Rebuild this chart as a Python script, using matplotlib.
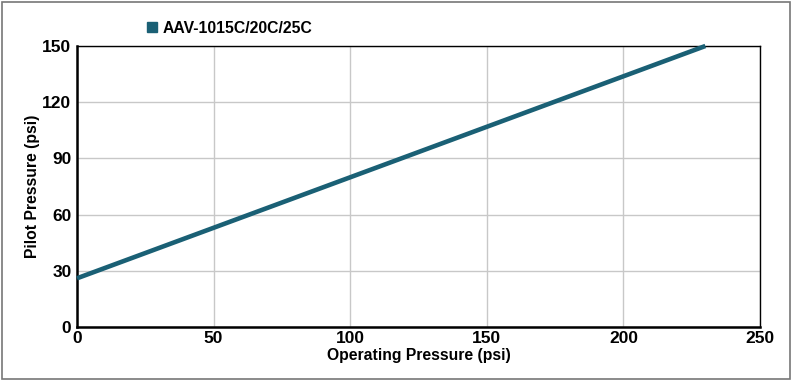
import matplotlib.pyplot as plt
from matplotlib.patches import Rectangle

# data
operating_psi = [0, 230]
pilot_psi = [26, 150]
series_name = "AAV-1015C/20C/25C"
x_ticks = [0, 50, 100, 150, 200, 250]
y_ticks = [0, 30, 60, 90, 120, 150]

teal = "#1a6075"

plt.rcParams['font.family'] = ['Liberation Sans', 'DejaVu Sans']
plt.rcParams['font.weight'] = 'bold'

fig = plt.figure(figsize=(7.93, 3.83), dpi=100)
ax = fig.add_axes([77/793, 1 - 327/383, 683/793, 281/383])

ax.plot(operating_psi, pilot_psi, color=teal, lw=3.3, solid_capstyle='butt',
        label=series_name, clip_on=False, zorder=3)

ax.set_xlim(0, 250)
ax.set_ylim(0, 150)
ax.set_xticks(x_ticks)
ax.set_yticks(y_ticks)
ax.grid(True, color='#c8c8c8', lw=1)
ax.set_axisbelow(True)
ax.tick_params(axis='both', length=0, labelsize=12.5, pad=4)
ax.tick_params(axis='x', pad=3)
for lbl in ax.get_xticklabels() + ax.get_yticklabels():
    lbl.set_fontweight('bold')

for side in ['left', 'bottom']:
    ax.spines[side].set_linewidth(1.8)
for side in ['top', 'right']:
    ax.spines[side].set_linewidth(1.0)

ax.set_xlabel("Operating Pressure (psi)", fontsize=11.3, fontweight='bold', labelpad=1)
ax.set_ylabel("Pilot Pressure (psi)", fontsize=11.3, fontweight='bold', labelpad=2)

# legend with square marker above the plot
leg = ax.legend(handles=[plt.Line2D([], [], marker='s', color=teal, ls='none', markersize=7.5)],
                labels=[series_name], loc='lower left', bbox_to_anchor=(0.085, 1.0),
                frameon=False, handlelength=0.8, handletextpad=0.3, borderaxespad=0.25,
                prop={'weight': 'bold', 'size': 11.3})

# outer frame around whole figure
fig.patches.append(Rectangle((2/793, 4/383), 788/793, 377/383, transform=fig.transFigure,
                             fill=False, edgecolor='#777777', lw=1.2))

plt.savefig("out.png", dpi=100)
